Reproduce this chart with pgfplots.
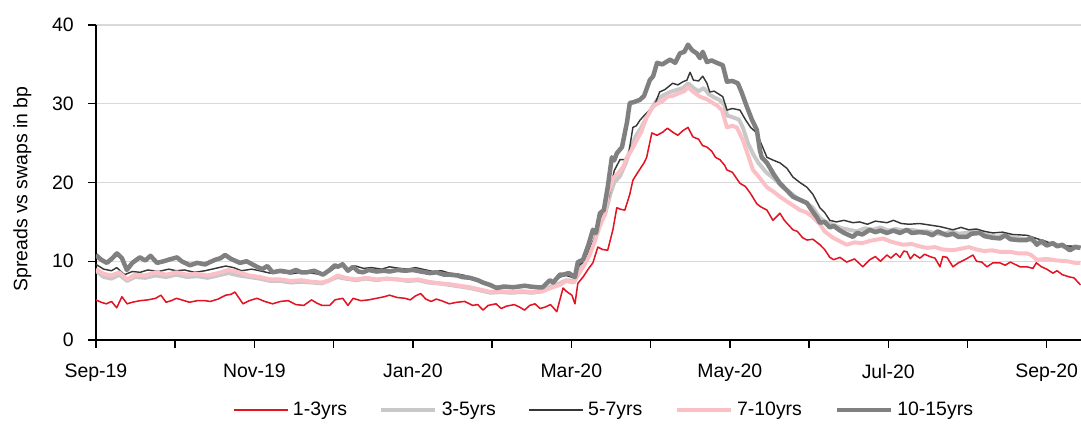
\documentclass[border=0pt]{standalone}
\usepackage{fontspec}
\setmainfont{Liberation Sans}
\usepackage{pgfplots}
\pgfplotsset{compat=1.18}
\definecolor{cred}{RGB}{226,20,36}
\definecolor{clgray}{RGB}{200,200,200}
\definecolor{cblack}{RGB}{55,55,55}
\definecolor{cpink}{RGB}{250,192,198}
\definecolor{cgray}{RGB}{128,128,128}
\definecolor{cgrid}{RGB}{217,217,217}
\begin{document}
\begin{tikzpicture}
\begin{axis}[
  name=ax,
  scale only axis,
  width=547.2pt, height=175pt,
  xmin=0, xmax=379.2, ymin=0, ymax=40,
  axis lines=left,
  axis line style={-, line width=0.9pt, black},
  xtick={0,30.5,61,91.5,122,152.5,183,213.5,244,274.5,305,335.5,366},
  xticklabels={Sep-19,,Nov-19,,Jan-20,,Mar-20,,May-20,,Jul-20,,Sep-20},
  ytick={0,10,20,30,40},
  tick align=outside,
  major tick length=4.4pt,
  tick style={line width=0.8pt, black},
  ymajorgrids,
  grid style={cgrid, line width=0.8pt},
  /pgf/number format/assume math mode=true,
  tick label style={font=\fontsize{10.8}{13}\selectfont},
  xticklabel style={yshift=-5.5pt},
  yticklabel style={xshift=-4.4pt},
  ylabel={Spreads vs swaps in bp},
  ylabel style={font=\fontsize{10.8}{13}\selectfont, xshift=-3.6pt, yshift=4.6pt},
  clip=true,
  legend columns=5,
  legend style={at={(0.517,-0.222)}, anchor=center, draw=none,
    font=\fontsize{10.8}{13}\selectfont,
    /tikz/every even column/.append style={column sep=15.5pt},
    nodes={inner xsep=2.5pt}},
  legend image code/.code={\draw[#1] (0pt,0pt) -- (30pt,0pt);},
  every axis plot/.append style={line join=round},
]
\addplot[cred, line width=0.85pt] coordinates {
(0,5.1)(2,4.8)(4,4.6)(6,4.9)(8,4.1)(10,5.5)(12,4.6)(14,4.8)(17,5.0)(20,5.1)(23,5.3)(25,5.7)(27,4.8)(29,5.0)(31,5.3)(34,5.0)(36,4.8)(39,5.0)(42,5.0)(44,4.9)(47,5.2)(50,5.7)(52,5.8)(53.5,6.1)(56.6,4.6)(59,5.0)(62,5.3)(65,4.9)(68,4.6)(71,4.9)(74,5.0)(77,4.5)(80,4.4)(83,5.1)(85,4.7)(87,4.4)(90,4.4)(92,5.1)(95,5.3)(97,4.4)(99,5.3)(102,5.0)(105,5.1)(108,5.3)(111,5.5)(113,5.7)(116,5.4)(119,5.3)(121,5.1)(123,5.6)(125,5.9)(127,5.2)(129,4.9)(131,5.2)(133,5.0)(136,4.6)(139,4.8)(142,4.9)(145,4.4)(147,4.5)(149,3.8)(151,4.4)(154,4.6)(156,4.0)(158,4.3)(161,4.5)(163,4.2)(165,3.8)(167,4.4)(169,4.6)(171,4.0)(173,4.2)(175,4.5)(177.4,3.6)(179.8,6.6)(181,6.2)(183.2,5.7)(184.4,4.6)(185.5,7.2)(187.5,8.0)(189.5,9.0)(191.3,9.8)(193.2,11.8)(195,11.5)(197,11.4)(199,14.0)(200.5,16.8)(202,16.6)(203.6,16.5)(205.5,18.5)(206.7,20.3)(209,21.5)(211,22.5)(212,23.2)(214,26.3)(216,26.0)(218.2,26.4)(220,26.9)(222,26.4)(224,26.0)(226,26.6)(227.9,27.0)(229.8,25.8)(232,25.5)(233.5,24.7)(235.2,24.5)(237,24.0)(238.5,23.2)(240.2,22.9)(242,22.2)(242.9,21.6)(245,21.3)(247.9,19.9)(250,19.5)(252,18.6)(254.4,17.3)(256,16.9)(258.3,16.5)(260.6,15.2)(263.3,16.1)(265,15.2)(268.3,14.0)(270,13.8)(272,13.0)(273.7,12.7)(276,12.8)(278.7,12.1)(280.5,11.5)(282.5,10.5)(284,10.2)(286.4,10.5)(289,9.9)(292,10.3)(295.2,9.3)(297.9,10.2)(300,10.6)(302,10.0)(304.5,10.8)(306,10.4)(308,11.0)(309.5,10.5)(311,11.3)(312.2,11.2)(313.5,10.3)(315,10.9)(317.2,10.4)(319,10.9)(321,10.6)(323,10.4)(324.9,9.3)(326,10.6)(327.6,10.5)(329.9,9.3)(332,9.8)(335,10.3)(337.6,10.8)(339,10.0)(341,9.9)(343,9.3)(345.3,9.8)(348,9.8)(350,9.5)(352,9.9)(355.7,9.3)(358.4,9.3)(360.7,9.1)(362,9.8)(364,9.3)(366,9.0)(368.4,8.5)(370,8.8)(372,8.3)(374.9,8.0)(376.5,7.9)(379,7.0)
};
\addlegendentry{1-3yrs}
\addplot[clgray, line width=2.2pt] coordinates {
(0,8.8)(3,8.0)(6,7.8)(9,8.3)(12,7.5)(15,8.0)(19,7.9)(23,8.2)(27,8.0)(31,8.3)(35,8.0)(39,8.1)(43,7.9)(47,8.2)(51,8.5)(55,8.2)(59,8.0)(63,7.8)(67,7.5)(71,7.5)(75,7.3)(79,7.4)(83,7.3)(87,7.2)(90,7.6)(93,8.0)(96,7.8)(100,7.6)(104,7.8)(108,7.6)(112,7.8)(116,7.7)(120,7.5)(124,7.6)(128,7.3)(132,7.2)(136,7.0)(140,6.8)(144,6.6)(148,6.3)(152,6.0)(156,6.1)(160,6.0)(164,6.1)(168,6.0)(172,6.2)(175,6.8)(178.6,7.2)(181,7.6)(184,7.5)(186,9.0)(188,9.8)(190,11.0)(192,12.8)(194,14.8)(196,16.0)(198,18.5)(199.5,20.0)(201.7,20.8)(204,22.5)(206,24.5)(208,26.0)(210,27.0)(212,28.3)(214,29.5)(216,30.5)(218,31.0)(221,31.5)(224,31.8)(226,32.0)(228,32.6)(230,32.0)(232,31.6)(234,32.0)(236,31.2)(238,30.8)(240,30.5)(242,29.8)(243,28.5)(245,28.3)(247.5,28.0)(249,27.0)(251,25.0)(253,23.6)(255,22.5)(258,21.3)(261,20.5)(264,19.5)(267,18.8)(270,18.0)(273,17.5)(276,16.8)(278.7,15.5)(281,15.0)(284,14.6)(287,14.2)(290,14.0)(293,13.8)(296,14.2)(299,14.0)(302,14.3)(305,13.9)(308,14.1)(311,13.9)(314,14.0)(317,13.8)(320,13.8)(323,13.6)(326,13.4)(329,13.8)(332,13.5)(335,13.6)(338,13.9)(341,13.5)(344,13.3)(347,13.1)(350,13.4)(353,13.0)(356,12.9)(359,12.8)(362,12.4)(365,12.2)(368,12.3)(371,12.0)(374,11.7)(377,11.9)(379,11.8)
};
\addlegendentry{3-5yrs}
\addplot[cblack, line width=0.8pt] coordinates {
(0,9.6)(3,9.0)(6,8.8)(8,9.2)(11,8.3)(14,8.7)(17,8.6)(20,8.9)(24,8.7)(28,9.0)(31,8.8)(34,8.9)(38,8.6)(42,8.8)(46,9.1)(50,9.4)(53,9.2)(56,8.8)(60,9.0)(63,8.8)(67,8.5)(71,8.6)(75,8.4)(79,8.6)(83,8.5)(87,8.3)(90,8.7)(93,9.4)(95,9.8)(97,9.0)(100,9.4)(103,9.1)(106,9.2)(110,9.0)(113,9.3)(117,9.1)(120,9.0)(123,9.2)(127,8.9)(130,8.7)(133,8.8)(136,8.5)(139,8.4)(142,8.2)(145,7.9)(148,7.5)(151,7.1)(154,6.8)(157,6.9)(160,6.8)(164,6.9)(168,6.8)(172,6.8)(175,7.4)(178.6,8.0)(181,8.2)(184,7.9)(186,9.5)(188,10.0)(190,11.5)(192,13.0)(194,15.5)(196,16.2)(198,19.0)(199.5,21.5)(201.7,22.9)(203.5,22.9)(205,23.5)(206.7,27.0)(208,27.2)(209.4,27.9)(211,28.5)(213.2,29.2)(215,29.8)(217,31.5)(219,31.8)(222,32.6)(224,32.4)(226,32.8)(227.5,33.0)(228.7,34.0)(230,33.0)(232,32.9)(233.6,33.5)(235.2,32.6)(236.3,31.5)(238,31.6)(241.3,30.9)(242.9,29.2)(245,29.4)(247.9,29.2)(250,28.0)(252,27.0)(254.4,26.3)(256,25.0)(258.3,23.2)(261,22.8)(263.3,22.5)(266,21.8)(268.3,20.7)(271,20.0)(273.7,19.4)(276,18.5)(278.7,16.8)(280.5,16.2)(282.5,15.2)(285,15.0)(288,15.2)(291.4,14.9)(294,15.0)(297,14.7)(300,15.1)(304.5,14.9)(307,15.2)(310,14.8)(313,14.7)(317,14.8)(321,14.6)(325,14.4)(329.9,14.0)(333,14.3)(336,14.0)(339,14.1)(342,13.8)(345.3,13.6)(349,13.7)(353,13.4)(358.4,13.3)(362,12.9)(366,12.5)(368.4,12.1)(372,12.0)(376,11.9)(379,11.8)
};
\addlegendentry{5-7yrs}
\addplot[cpink, line width=2.2pt] coordinates {
(0,9.0)(3,8.4)(6,8.2)(9,8.6)(12,7.7)(15,8.3)(19,8.2)(23,8.6)(27,8.3)(31,8.6)(35,8.3)(39,8.4)(43,8.2)(47,8.5)(51,8.9)(55,8.6)(59,8.2)(63,8.0)(67,7.7)(71,7.7)(75,7.5)(79,7.6)(83,7.4)(87,7.3)(90,7.6)(93,8.2)(96,7.9)(100,7.7)(104,7.9)(108,7.7)(112,7.8)(116,7.7)(120,7.6)(124,7.7)(128,7.4)(132,7.2)(136,7.1)(140,6.9)(144,6.7)(148,6.4)(152,6.1)(156,6.2)(160,6.1)(164,6.2)(168,6.1)(172,6.2)(175,6.6)(178.6,7.0)(181,7.5)(184,7.3)(186,8.5)(188,9.5)(190,10.8)(192,12.5)(194,14.5)(196,16.0)(197,18.5)(199,20.5)(201,21.2)(203,22.0)(204.4,23.2)(206,24.0)(208.2,25.4)(210,26.5)(212,28.3)(214.4,29.6)(216,30.0)(218,30.3)(220,30.9)(222,31.0)(224.8,31.4)(226.5,31.6)(227.9,32.1)(230,31.5)(232.5,30.9)(235,30.6)(237.5,30.1)(239,29.8)(241,29.2)(242.9,27.0)(245,27.2)(246.7,27.0)(249,25.4)(251,23.5)(252.9,21.6)(255,20.8)(258.3,19.4)(261,18.8)(263.3,18.2)(266,17.6)(268.3,17.1)(271,16.5)(273.5,16.2)(276,15.6)(278.7,14.7)(280.5,13.8)(283.7,13.0)(286,12.6)(289,12.1)(292,12.4)(295,12.3)(298,12.6)(303,12.9)(306,12.5)(310.6,12.1)(314,12.2)(317,11.9)(319.9,11.7)(323,11.8)(326,11.5)(329.9,11.4)(333,11.6)(336,11.8)(339,11.5)(342,11.3)(345,11.4)(348,11.2)(352,11.2)(355,11.0)(358.4,11.0)(360,10.8)(362.2,10.2)(366,10.3)(370,10.1)(374,10.0)(377,9.8)(379,9.8)
};
\addlegendentry{7-10yrs}
\addplot[cgray, line width=2.5pt] coordinates {
(0,10.8)(2,10.2)(4.2,9.8)(6,10.3)(8.1,11.0)(10,10.4)(11.9,8.9)(14,9.8)(16.9,10.5)(19,10.1)(21,10.7)(23.5,9.8)(26,10.0)(28,10.2)(31.2,10.5)(33,10.0)(36.2,9.5)(39,9.8)(42,9.6)(43.9,9.9)(46,10.2)(48,10.4)(49.7,10.8)(52,10.3)(55.4,9.8)(58,10.0)(62,9.3)(64,9.0)(66,9.4)(68,8.6)(71,8.8)(74.7,8.6)(77,8.9)(79,8.6)(81.2,8.6)(84,8.8)(87.4,8.3)(90,8.9)(92,9.5)(93,9.3)(95,9.6)(97,8.8)(99,9.3)(101,8.7)(102.8,8.6)(105,8.9)(108,8.7)(111,8.8)(113,8.7)(116,8.9)(119,8.8)(122,8.9)(125,8.7)(128.6,8.5)(131,8.6)(134,8.3)(136,8.3)(139,8.2)(141,8.0)(144,7.9)(147,7.6)(149,7.3)(151.7,7.0)(154.3,6.6)(157,6.8)(160.5,6.7)(163,6.8)(165,6.9)(167,6.8)(170,6.7)(172,6.7)(174.7,7.6)(176,7.3)(178.6,8.3)(179.8,8.3)(182,8.5)(184.4,8.0)(185.5,9.9)(187.5,10.2)(189.5,12.0)(191.3,14.0)(192.5,13.6)(194,16.1)(195.5,16.5)(197,19.4)(198.6,23.2)(199.5,22.8)(200.5,23.7)(202.5,24.5)(204.4,27.6)(205.5,30.1)(207,30.2)(209.4,30.5)(211,31.0)(213.2,33.0)(214.5,33.5)(216,35.2)(218,35.0)(221,35.6)(223,35.2)(224.8,36.4)(226.5,36.6)(227.9,37.5)(229.5,36.8)(231.3,36.4)(232.5,35.8)(233.6,36.6)(235.2,35.3)(237,35.5)(239,35.2)(241.3,34.9)(242.9,32.8)(245,32.9)(247.1,32.6)(248.5,31.5)(250.6,29.6)(252.5,28.0)(254.4,26.7)(255.6,24.1)(256.3,23.2)(258.3,22.5)(261,21.0)(263.3,19.9)(266,19.0)(268.3,18.2)(271,17.8)(273.7,17.4)(275.5,16.5)(277.5,15.6)(278.7,14.9)(280.5,15.0)(282.5,14.3)(284,14.5)(286,14.0)(288,13.6)(291.4,13.1)(293,13.6)(295,13.4)(297.9,14.0)(300,13.7)(302,13.9)(304.5,13.6)(307,13.9)(309.5,13.6)(312.2,14.0)(314,13.6)(317,13.7)(319.9,13.6)(322,13.3)(324,13.8)(327.6,13.3)(330,13.5)(332,13.1)(335.3,13.1)(337,13.5)(340.3,13.6)(342,13.2)(345,13.0)(348,12.9)(350,13.3)(352,12.8)(355,12.7)(358.4,12.7)(360,13.0)(362.2,12.1)(364,12.6)(366,12.0)(368.4,12.3)(370,11.9)(372,12.1)(374.9,11.4)(377,11.8)(379,11.7)
};
\addlegendentry{10-15yrs}
\end{axis}
\pgfresetboundingbox
\path[use as bounding box] ([xshift=-53.3pt,yshift=-46.1pt]ax.south west) rectangle ([yshift=13.9pt]ax.north east);
\end{tikzpicture}
\end{document}
